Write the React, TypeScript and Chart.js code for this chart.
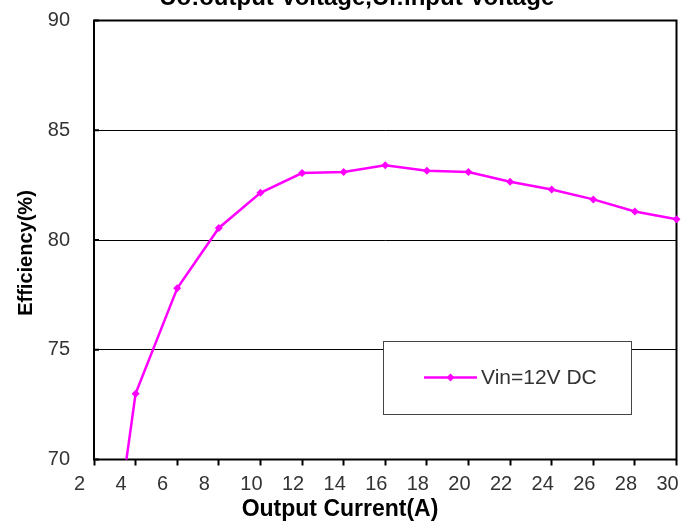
import React, { useEffect, useRef } from "react";
import { Chart, registerables } from "chart.js";

Chart.register(...registerables);

const chartTitle = "Uo:output Voltage,Ui:input Voltage";
const xAxisTitle = "Output Current(A)";
const yAxisTitle = "Efficiency(%)";
const seriesLabel = "Vin=12V DC";

// Output current (A) and measured efficiency (%)
const outputCurrent = [2, 4, 6, 8, 10, 12, 14, 16, 18, 20, 22, 24, 26, 28, 30];
const efficiency = [59.4, 73.0, 77.8, 80.55, 82.15, 83.05, 83.1, 83.4, 83.15, 83.1, 82.65, 82.3, 81.85, 81.3, 80.95];

const xTicks = [2, 4, 6, 8, 10, 12, 14, 16, 18, 20, 22, 24, 26, 28, 30];
const yTicks = [70, 75, 80, 85, 90];

const LINE_COLOR = "#ff00ff";
const TEXT_COLOR = "#333333";
const FONT = '"Liberation Sans", Arial, sans-serif';

const decorations = {
  id: "decorations",
  beforeDatasetsDraw(chart: any) {
    const { ctx, chartArea: a, scales } = chart;
    ctx.save();
    ctx.strokeStyle = "#000";
    ctx.lineWidth = 2;
    // short inward tick marks on the value axis
    for (const v of yTicks) {
      const y = scales.y.getPixelForValue(v);
      ctx.beginPath();
      ctx.moveTo(a.left, y);
      ctx.lineTo(a.left + 5, y);
      ctx.stroke();
    }
    // plot frame
    ctx.strokeRect(a.left, a.top, a.right - a.left, a.bottom - a.top);
    ctx.restore();
  },
  afterDatasetsDraw(chart: any) {
    const { ctx } = chart;
    const ds = chart.data.datasets[0];
    ctx.save();

    // legend box
    const bx = 383.5, by = 341.5, bw = 248, bh = 73;
    ctx.fillStyle = "#fff";
    ctx.fillRect(bx, by, bw, bh);
    ctx.strokeStyle = "#444";
    ctx.lineWidth = 1;
    ctx.strokeRect(bx, by, bw, bh);

    const ly = 377.5;
    ctx.strokeStyle = ds.borderColor;
    ctx.lineWidth = ds.borderWidth;
    ctx.beginPath();
    ctx.moveTo(424, ly);
    ctx.lineTo(477, ly);
    ctx.stroke();
    ctx.fillStyle = ds.pointBackgroundColor;
    ctx.beginPath();
    ctx.moveTo(450.5, ly - 4);
    ctx.lineTo(454.5, ly);
    ctx.lineTo(450.5, ly + 4);
    ctx.lineTo(446.5, ly);
    ctx.closePath();
    ctx.fill();

    ctx.fillStyle = TEXT_COLOR;
    ctx.font = `21px ${FONT}`;
    ctx.textAlign = "left";
    ctx.textBaseline = "middle";
    ctx.fillText(ds.label, 481, ly + 1);

    // chart title (runs off the top edge)
    ctx.fillStyle = "#000";
    ctx.font = `bold 24px ${FONT}`;
    ctx.textAlign = "center";
    ctx.textBaseline = "alphabetic";
    ctx.fillText(chartTitle, 356.7, 4.7);

    // axis titles
    ctx.font = `bold 23px ${FONT}`;
    ctx.fillText(xAxisTitle, 340, 515.5);

    ctx.save();
    ctx.translate(31.7, 253);
    ctx.rotate(-Math.PI / 2);
    ctx.font = `bold 20px ${FONT}`;
    ctx.fillText(yAxisTitle, 0, 0);
    ctx.restore();

    ctx.restore();
  },
};

export default function App() {
  const canvasRef = useRef<HTMLCanvasElement | null>(null);

  useEffect(() => {
    const canvas = canvasRef.current;
    if (!canvas) return;
    const chart = new Chart(canvas, {
      type: "line",
      data: {
        datasets: [
          {
            label: seriesLabel,
            data: outputCurrent.map((x, i) => ({ x, y: efficiency[i] })),
            borderColor: LINE_COLOR,
            backgroundColor: LINE_COLOR,
            pointBackgroundColor: LINE_COLOR,
            pointBorderColor: LINE_COLOR,
            borderWidth: 2.5,
            pointStyle: "rectRot",
            pointRadius: 4,
            pointBorderWidth: 0,
            tension: 0,
            clip: { left: 10, right: 10, top: 10, bottom: 0 },
          },
        ],
      },
      options: {
        responsive: false,
        animation: false,
        events: [],
        layout: { padding: { top: 20.5, right: 20.5, left: 0, bottom: 0 } },
        plugins: {
          legend: { display: false },
          title: { display: false },
          tooltip: { enabled: false },
        },
        scales: {
          x: {
            type: "linear",
            min: 2,
            max: 30,
            afterBuildTicks: (s: any) => {
              s.ticks = xTicks.map((value) => ({ value }));
            },
            afterFit: (s: any) => {
              s.height = 61.5;
              s.paddingLeft = 0;
              s.paddingRight = 0;
            },
            border: { display: false },
            grid: {
              drawOnChartArea: false,
              drawTicks: true,
              tickLength: 6,
              tickWidth: 2,
              tickColor: "#000",
            },
            ticks: {
              color: TEXT_COLOR,
              font: { family: FONT, size: 20 },
              padding: 7,
              labelOffset: -9,
              maxRotation: 0,
              autoSkip: false,
              callback: (v: any) => (String(v).length === 1 ? `${v}  ` : String(v)),
            },
          },
          y: {
            type: "linear",
            min: 70,
            max: 90,
            afterBuildTicks: (s: any) => {
              s.ticks = yTicks.map((value) => ({ value }));
            },
            afterFit: (s: any) => {
              s.width = 94;
              s.paddingTop = 0;
              s.paddingBottom = 0;
            },
            border: { display: false },
            grid: {
              color: "#000",
              lineWidth: 1,
              drawTicks: false,
            },
            ticks: {
              color: TEXT_COLOR,
              font: { family: FONT, size: 20 },
              padding: 24,
            },
          },
        },
      },
      plugins: [decorations],
    });
    return () => chart.destroy();
  }, []);

  return (
    <div style={{ position: "absolute", left: 0, top: 0, width: 697, height: 521, background: "#fff" }}>
      <canvas ref={canvasRef} width={697} height={521} />
    </div>
  );
}
